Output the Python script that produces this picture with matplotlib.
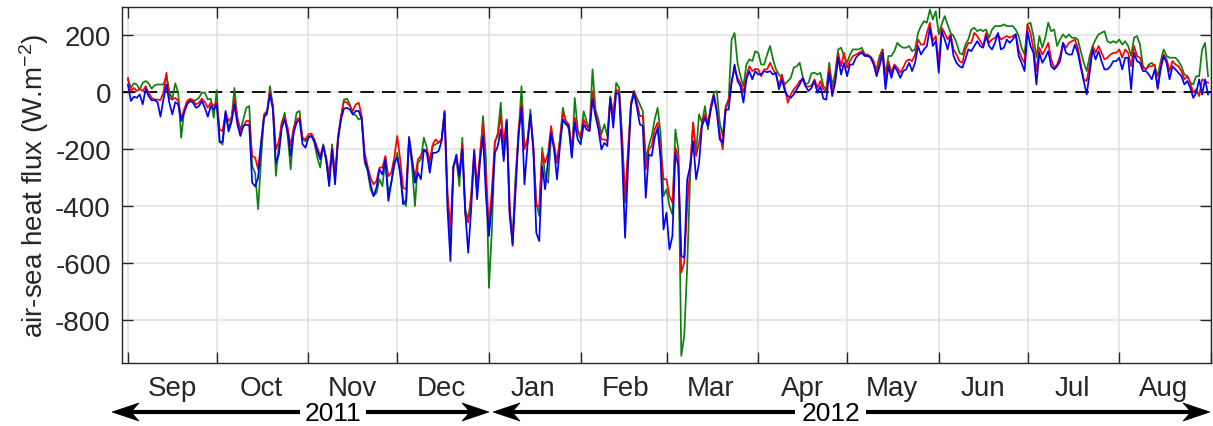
import datetime as dt
import matplotlib
matplotlib.use("Agg")
import matplotlib.pyplot as plt
import matplotlib.dates as mdates
from matplotlib.patches import Polygon
from matplotlib.lines import Line2D

plt.rcParams['font.family'] = ['Liberation Sans', 'DejaVu Sans']
plt.rcParams['axes.unicode_minus'] = False
plt.rcParams['mathtext.fontset'] = 'custom'
plt.rcParams['mathtext.rm'] = 'Liberation Sans'
plt.rcParams['mathtext.default'] = 'regular'

# ---------------- data (daily, 1 Sep 2011 - 31 Aug 2012) ----------------
start_date = "2011-09-01"
n_days = 366

blue = [
    28, -30, -15, -19, -7, -42, 13, -13, -28, -27,
    -34, -85, -25, 28, -36, -77, -34, -42, -100, -71,
    -42, -30, -36, -54, -48, -30, -54, -85, -48, -60,
    -42, -175, -172, -65, -137, -104, -42, -113, -153, -118,
    -113, -116, -317, -330, -300, -177, -89, -71, -7, -60,
    -247, -218, -124, -95, -142, -223, -142, -106, -95, -182,
    -194, -159, -153, -171, -206, -235, -188, -235, -329, -200,
    -323, -165, -95, -57, -54, -60, -77, -65, -65, -95,
    -235, -270, -323, -364, -334, -270, -288, -235, -381, -317,
    -247, -229, -282, -393, -381, -156, -235, -317, -282, -305,
    -200, -212, -282, -212, -212, -206, -171, -71, -410, -592,
    -259, -218, -294, -200, -422, -563, -410, -206, -375, -235,
    -153, -364, -504, -387, -212, -188, -130, -241, -101, -434,
    -534, -340, -153, -54, -323, -188, -77, -200, -493, -522,
    -259, -340, -235, -142, -200, -305, -188, -95, -112, -118,
    -229, -106, -165, -182, -112, -130, -136, -25, -83, -130,
    -200, -177, -188, -19, -124, -1, -7, -223, -510, -259,
    -48, -1, -54, -112, -118, -370, -218, -223, -159, -124,
    -235, -481, -422, -551, -504, -212, -259, -574, -580, -305,
    -259, -171, -305, -247, -118, -89, -118, -60, -13, -71,
    -165, -177, -60, -60, 34, 98, 40, 22, -36, 46,
    75, 46, 75, 63, 63, 75, 71, 75, 63, 69,
    11, 46, 5, -13, -19, -7, 11, 28, 51, 22,
    5, 16, 40, -1, 22, -22, -25, 69, -13, 34,
    122, 63, 104, 57, 98, 98, 122, 133, 139, 128,
    128, 122, 98, 57, 92, 139, 11, 92, 51, 92,
    75, 51, 75, 81, 104, 75, 104, 163, 133, 151,
    163, 227, 163, 180, 69, 215, 186, 151, 198, 128,
    104, 92, 87, 116, 151, 145, 163, 180, 163, 157,
    198, 163, 151, 174, 209, 151, 157, 186, 174, 186,
    204, 128, 104, 75, 215, 163, 139, 28, 139, 104,
    122, 145, 92, 81, 92, 110, 174, 139, 133, 133,
    168, 139, 87, 40, -7, 69, 151, 116, 145, 110,
    81, 81, 92, 110, 110, 122, 81, 122, 122, 11,
    139, 110, 104, 75, 75, 63, 46, 81, 16, 81,
    128, 104, 46, 92, 81, 69, 57, 28, 40, 16,
    -19, -1, 46, -7, 46, -7,
]

red = [
    51, 5, 16, 5, 13, 5, 22, -1, -19, -25,
    -25, -27, -1, 69, -19, -25, -19, -30, -92, -60,
    -30, -22, -27, -42, -36, -22, -34, -54, -36, -48,
    -36, -130, -136, -71, -100, -89, -25, -89, -136, -118,
    -100, -100, -223, -229, -270, -177, -77, -65, 5, -48,
    -200, -171, -106, -89, -124, -188, -124, -95, -89, -159,
    -165, -147, -144, -165, -194, -223, -186, -229, -288, -194,
    -288, -153, -83, -30, -36, -48, -65, -42, -36, -83,
    -212, -259, -300, -323, -311, -264, -264, -223, -294, -282,
    -229, -153, -235, -335, -340, -165, -235, -300, -235, -223,
    -206, -200, -241, -182, -165, -176, -165, -65, -352, -481,
    -259, -235, -282, -182, -428, -457, -364, -200, -329, -212,
    -106, -294, -469, -340, -171, -153, -83, -177, -95, -387,
    -539, -317, -130, -42, -200, -165, -83, -188, -399, -399,
    -212, -247, -212, -118, -188, -247, -165, -71, -101, -112,
    -200, -89, -136, -153, -95, -118, -130, 5, -71, -112,
    -165, -165, -171, -19, -83, 11, -1, -165, -375, -200,
    -42, 5, -36, -83, -83, -270, -200, -188, -130, -106,
    -200, -305, -305, -364, -387, -194, -223, -633, -597, -399,
    -259, -106, -223, -177, -106, -77, -106, -48, -7, -60,
    -142, -200, -60, -25, 40, 81, 51, 34, -1, 57,
    92, 75, 83, 81, 57, 81, 81, 104, 81, 63,
    22, 63, 16, -36, -7, 11, 22, 40, 46, 22,
    20, 25, 46, 16, 40, 11, 5, 87, -1, 46,
    139, 92, 139, 87, 110, 128, 133, 139, 145, 133,
    130, 126, 110, 69, 116, 151, 28, 110, 69, 98,
    87, 69, 87, 110, 116, 110, 133, 186, 168, 168,
    209, 245, 180, 198, 104, 227, 209, 186, 204, 151,
    133, 110, 104, 151, 174, 174, 209, 198, 180, 163,
    209, 174, 186, 192, 204, 186, 192, 198, 192, 198,
    204, 151, 122, 104, 239, 209, 151, 75, 157, 133,
    151, 174, 116, 87, 98, 128, 174, 157, 174, 180,
    186, 157, 98, 46, 40, 98, 163, 139, 163, 139,
    116, 122, 133, 139, 139, 151, 122, 151, 139, 92,
    163, 128, 122, 87, 81, 92, 92, 98, 11, 98,
    133, 116, 75, 110, 98, 92, 75, 46, 57, 34,
    -1, 11, -13, 46, 40, 34,
]

green = [
    45, 16, 32, 28, 10, 34, 40, 32, 13, 25,
    28, 28, 28, 57, 5, -25, 32, -1, -159, -65,
    -36, -25, -30, -27, -19, -1, -1, -25, -22, -89,
    8, -172, -183, -77, -124, -95, 16, -95, -130, -95,
    -54, -48, -259, -283, -410, -235, -83, -77, 22, -48,
    -293, -188, -106, -71, -153, -270, -136, -71, -65, -165,
    -171, -156, -150, -177, -229, -264, -182, -241, -317, -182,
    -305, -165, -89, -25, -22, -42, -77, -80, -95, -89,
    -247, -276, -340, -364, -352, -305, -329, -235, -352, -317,
    -259, -212, -282, -375, -399, -165, -259, -399, -247, -235,
    -159, -194, -259, -188, -182, -176, -165, -65, -375, -516,
    -259, -235, -329, -159, -410, -446, -364, -223, -352, -235,
    -83, -235, -686, -481, -177, -142, -36, -223, -95, -422,
    -504, -294, -153, 22, -188, -177, -60, -200, -387, -434,
    -194, -294, -317, -153, -188, -247, -165, -54, -106, -130,
    -223, -19, -130, -165, -66, -101, -130, 81, -60, -95,
    -147, -112, -153, -13, -83, 34, 16, -153, -387, -223,
    -36, 5, -19, -42, -66, -235, -188, -153, -95, -54,
    -142, -364, -340, -399, -428, -130, -200, -925, -855, -610,
    -294, -106, -212, -77, -106, -48, -130, -48, -1, 5,
    -106, -153, -48, -25, 186, 209, 104, 57, 22, 98,
    116, 110, 145, 139, 98, 98, 133, 163, 116, 81,
    63, 51, 28, 40, 51, 87, 92, 104, 57, 28,
    34, 67, 69, 63, 69, 22, 11, 104, 22, 69,
    151, 157, 128, 104, 133, 151, 151, 151, 157, 133,
    133, 122, 104, 81, 128, 151, 63, 128, 128, 145,
    174, 163, 157, 157, 163, 145, 151, 209, 233, 250,
    245, 291, 256, 285, 204, 239, 268, 239, 209, 198,
    174, 139, 133, 168, 186, 221, 227, 215, 221, 215,
    221, 192, 221, 233, 233, 233, 239, 233, 233, 233,
    221, 198, 157, 133, 239, 245, 198, 122, 198, 157,
    192, 245, 215, 221, 163, 186, 204, 192, 204, 192,
    192, 186, 145, 104, 75, 128, 163, 186, 204, 209,
    215, 180, 174, 180, 174, 186, 168, 180, 163, 128,
    192, 198, 168, 92, 81, 98, 104, 92, 57, 110,
    151, 128, 122, 122, 122, 110, 92, 63, 57, 34,
    28, 57, 57, 151, 174, 57,
]

y_ticks = [-800, -600, -400, -200, 0, 200]
year_labels = ["2011", "2012"]
ylabel_text = "air-sea heat flux (W.m$^{-2}$)"

# ---------------- figure ----------------
W, H = 1213, 427
FS = 20
fig = plt.figure(figsize=(W / 100, H / 100), dpi=100)
ax = fig.add_axes([122 / W, 1 - 364 / H, (1211 - 122) / W, (364 - 8) / H])

d0 = dt.date.fromisoformat(start_date)
dates = [d0 + dt.timedelta(days=i) for i in range(n_days)]
x = mdates.date2num(dates)

ax.plot(x, green, color='#0f800f', lw=1.25, zorder=3)
ax.plot(x, red, color='#ff0000', lw=1.25, zorder=4)
ax.plot(x, blue, color='#0000ff', lw=1.25, zorder=5)
ax.axhline(0, color='black', lw=1.3, ls=(0, (7.5, 4.5)), zorder=2)

ax.set_xlim(mdates.date2num(dt.date(2011, 8, 30)), mdates.date2num(dt.date(2012, 9, 1)))
ax.set_ylim(-950, 300)
ax.set_yticks(y_ticks)
ax.set_yticklabels([str(v) for v in y_ticks])

ax.xaxis.set_major_locator(mdates.MonthLocator())
ax.xaxis.set_major_formatter(plt.NullFormatter())
ax.xaxis.set_minor_locator(mdates.MonthLocator(bymonthday=16))
ax.xaxis.set_minor_formatter(mdates.DateFormatter('%b'))

ax.set_axisbelow(True)
ax.grid(True, which='major', color='#e0e0e0', lw=1.1, zorder=0)

ax.tick_params(which='major', direction='in', length=8, width=1, top=True,
               right=True, colors='#262626', labelsize=FS, pad=8)
ax.tick_params(axis='x', which='minor', length=0, labelsize=FS, pad=9,
               colors='#262626')
ax.tick_params(axis='y', which='minor', left=False, right=False)
for s in ax.spines.values():
    s.set_color('#262626')
    s.set_linewidth(1)

fig.text(34 / W, 1 - 186 / H, ylabel_text, rotation=90, ha='center',
         va='center', fontsize=FS, color='#262626')

# ---------------- year arrows ----------------
def fx(px):
    return px / W

def fy(py):
    return 1 - py / H

ya = 413

def arrow(tail, tip):
    sgn = 1 if tip > tail else -1
    L, hw, notch = 27, 9, 8
    base = tip - sgn * (L - notch)
    fig.add_artist(Line2D([fx(tail), fx(base)], [fy(ya), fy(ya)],
                          transform=fig.transFigure, color='black', lw=3,
                          solid_capstyle='butt'))
    pts = [(tip, ya), (tip - sgn * L, ya - hw), (tip - sgn * (L - notch), ya),
           (tip - sgn * L, ya + hw)]
    fig.add_artist(Polygon([(fx(a), fy(b)) for a, b in pts], closed=True,
                           transform=fig.transFigure, facecolor='black',
                           edgecolor='black', lw=0.5))

arrow(300, 112)
arrow(366, 489)
arrow(795, 493)
arrow(866, 1210)
fig.text(fx(333), fy(414), year_labels[0], ha='center', va='center',
         fontsize=19, color='black')
fig.text(fx(831), fy(414), year_labels[1], ha='center', va='center',
         fontsize=19, color='black')

fig.savefig('out.png', dpi=100)
